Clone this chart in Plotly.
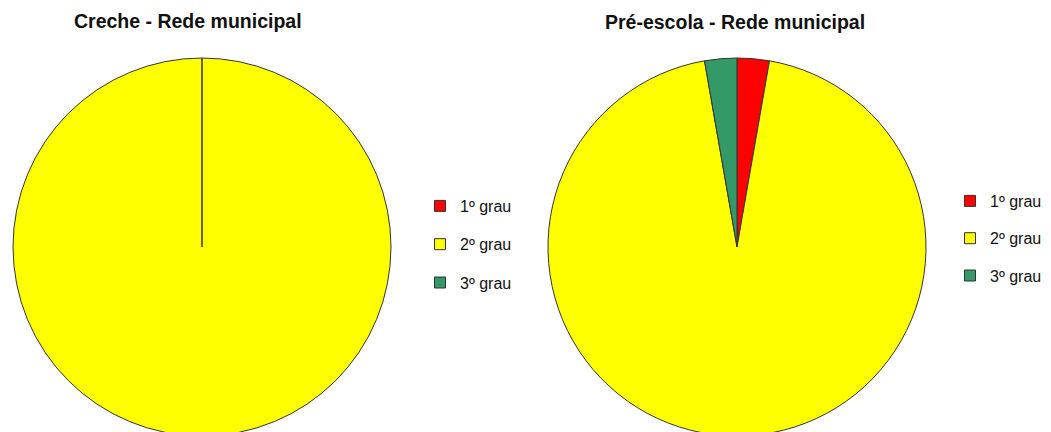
import plotly.graph_objects as go

categories = ["1º grau", "2º grau", "3º grau"]
colors = ["#FF0000", "#FFFF00", "#339966"]
creche_values = [0, 100, 0]
pre_values = [2.75, 94.5, 2.75]
titles = ["Creche - Rede municipal", "Pré-escola - Rede municipal"]

# page body has an 8px margin: work in figure coordinates = window - 8
OFF = 8
W, H = 1043, 428
T = 50
PH = H - T


def px_x(x):
    return (x - OFF) / W


def px_y(y):
    return (H - (y - OFF)) / PH


fig = go.Figure()

line = dict(color="#333333", width=1)
fig.add_trace(go.Pie(labels=categories, values=creche_values, sort=False,
                     direction="clockwise", rotation=0,
                     marker=dict(colors=colors, line=line),
                     textinfo="none", hoverinfo="label+percent", showlegend=False,
                     domain=dict(x=[px_x(13), px_x(391)], y=[0, 1])))
fig.add_trace(go.Pie(labels=categories, values=pre_values, sort=False,
                     direction="clockwise", rotation=0,
                     marker=dict(colors=colors, line=line),
                     textinfo="none", hoverinfo="label+percent", showlegend=False,
                     domain=dict(x=[px_x(548), px_x(926)], y=[0, 1])))

for li, leg in enumerate(["legend", "legend2"]):
    for i, (c, col) in enumerate(zip(categories, colors)):
        fig.add_trace(go.Scatter(x=[None], y=[None], mode="markers", name=c,
                                 marker=dict(symbol="square", size=11, color=col,
                                             line=dict(color="#333333", width=1)),
                                 legendgroup=f"{leg}{i}", legend=leg, showlegend=True))

legend_common = dict(font=dict(family="Liberation Sans, Arial", size=16, color="#111111"),
                     bgcolor="rgba(0,0,0,0)", itemwidth=30, yanchor="top",
                     xanchor="left")
title_font = dict(family="Liberation Sans, Arial", size=19.5, color="#111111")
fig.update_layout(
    width=W, height=H,
    margin=dict(l=0, r=0, t=T, b=0),
    paper_bgcolor="white", plot_bgcolor="white",
    xaxis=dict(visible=False), yaxis=dict(visible=False),
    legend=dict(x=px_x(420), y=px_y(189), tracegroupgap=14.5, **legend_common),
    legend2=dict(x=px_x(950), y=px_y(184), tracegroupgap=13.5, **legend_common),
    annotations=[
        dict(text=f"<b>{titles[0]}</b>", x=px_x(188), y=px_y(21), xref="paper", yref="paper",
             xanchor="center", yanchor="middle", showarrow=False, font=title_font),
        dict(text=f"<b>{titles[1]}</b>", x=px_x(734.5), y=px_y(22), xref="paper", yref="paper",
             xanchor="center", yanchor="middle", showarrow=False, font=title_font),
    ],
)

fig.write_html("out.html")
